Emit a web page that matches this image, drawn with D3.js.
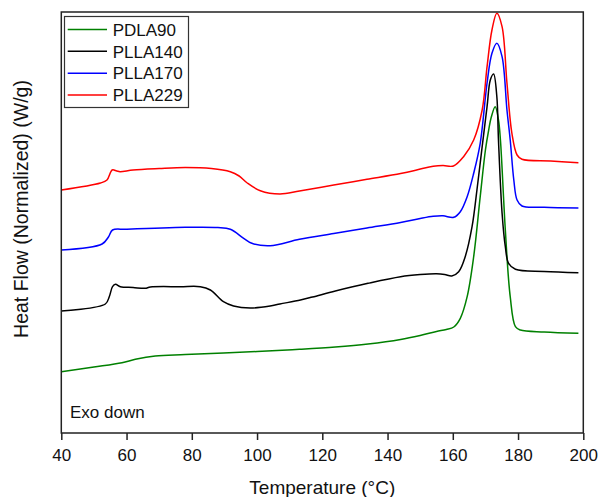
<!DOCTYPE html>
<html>
<head>
<meta charset="utf-8">
<script src="https://cdn.jsdelivr.net/npm/d3@7/dist/d3.min.js"></script>
<style>
  html, body { margin: 0; padding: 0; background: #fff; }
  svg { display: block; font-family: "Liberation Sans", Arial, Helvetica, sans-serif; }
</style>
</head>
<body>
<svg id="chart" width="598" height="497"></svg>
<script>
// DSC heating scans, heat flow normalized and offset (Exo down)
const seriesNames = ["PDLA90", "PLLA140", "PLLA170", "PLLA229"];
const seriesColors = ["#008000", "#000000", "#0000ff", "#ff0000"];
const xTicks = [40, 60, 80, 100, 120, 140, 160, 180, 200];

// [temperature °C, heat flow W/g (offset)]
const pdla90 = [
  [40, 0.603], [50, 0.65], [58.6, 0.693], [62.7, 0.727], [68.8, 0.76], [78, 0.775],
  [100, 0.805], [113, 0.827], [124, 0.85], [134, 0.88], [144, 0.925], [150, 0.965],
  [155, 1.005], [158, 1.025], [160.3, 1.05], [162.3, 1.137], [164.4, 1.353], [166.4, 1.753],
  [168.4, 2.353], [170, 2.82], [171, 3.02], [171.8, 3.15], [173, 3.253], [174, 3.12],
  [174.6, 2.92], [176.1, 2.02], [177.6, 1.353], [179.2, 1.053], [180.7, 1.02], [188, 1.0],
  [198.5, 0.987]
];
const plla140 = [
  [40, 1.21], [53.5, 1.28], [54.7, 1.353], [55.7, 1.453], [56.6, 1.477], [58.1, 1.453],
  [62, 1.445], [65.7, 1.437], [67.3, 1.45], [76.5, 1.453], [82.6, 1.453], [85.7, 1.42],
  [89.7, 1.303], [92.8, 1.26], [97.9, 1.24], [104, 1.26], [107, 1.28], [113.3, 1.32],
  [117, 1.35], [124, 1.41], [134, 1.487], [144, 1.553], [150, 1.574], [155, 1.582],
  [157.5, 1.575], [159.7, 1.56], [161.8, 1.603], [163.8, 1.753], [165.9, 2.053], [167.4, 2.42],
  [169, 2.853], [170.5, 3.253], [171.5, 3.52], [172.5, 3.58], [173.5, 3.353], [174, 2.92],
  [175.1, 2.19], [176.1, 1.853], [177.1, 1.687], [179.2, 1.627], [188, 1.605], [198.5, 1.593]
];
const plla170 = [
  [40, 1.82], [52.5, 1.88], [54.5, 1.953], [55.7, 2.02], [60, 2.027], [78, 2.047],
  [88, 2.045], [91.8, 2.027], [95.9, 1.937], [98.4, 1.887], [104, 1.863], [113, 1.927],
  [123.5, 1.985], [133.7, 2.04], [144, 2.095], [150, 2.135], [154, 2.157], [157, 2.162],
  [160.3, 2.147], [162.3, 2.203], [164.4, 2.353], [166.4, 2.587], [168.4, 2.887], [170.5, 3.49],
  [172, 3.787], [173.5, 3.887], [175.1, 3.753], [176.6, 3.22], [177.6, 2.92], [178.7, 2.52],
  [179.7, 2.32], [181.2, 2.26], [188, 2.248], [198.5, 2.24]
];
const plla229 = [
  [40, 2.42], [52, 2.49], [54, 2.52], [55.6, 2.62], [57, 2.61], [58, 2.603], [62, 2.62],
  [70, 2.635], [78, 2.645], [86, 2.635], [91.8, 2.603], [94.5, 2.56], [97, 2.49],
  [101, 2.413], [107, 2.38], [113, 2.41], [123.5, 2.47], [133.7, 2.527], [144, 2.585],
  [148, 2.613], [151, 2.638], [154, 2.657], [157, 2.664], [160.2, 2.66], [163.3, 2.753],
  [166.4, 2.92], [169, 3.22], [170.5, 3.653], [172, 4.02], [173.5, 4.187], [175.1, 4.053],
  [176.6, 3.49], [178.1, 2.99], [179.7, 2.77], [181.2, 2.727], [190, 2.71], [198.5, 2.693]
];
const seriesData = [pdla90, plla140, plla170, plla229];

const svg = d3.select("#chart");
const plotLeft = 61.3, plotRight = 583.3, plotTop = 12, plotBottom = 433;

const x = d3.scaleLinear().domain([40, 200]).range([plotLeft, plotRight]);
const y = d3.scaleLinear().domain([-0.01, 4.2]).range([plotBottom, plotTop]);

const line = d3.line()
  .x(d => x(d[0]))
  .y(d => y(d[1]))
  .curve(d3.curveCatmullRom.alpha(0.5));

// curves
svg.append("g")
  .selectAll("path")
  .data(seriesData)
  .join("path")
  .attr("d", line)
  .attr("fill", "none")
  .attr("stroke", (d, i) => seriesColors[i])
  .attr("stroke-width", 1.5)
  .attr("stroke-linejoin", "round");

// bottom axis
const xAxis = d3.axisBottom(x)
  .tickValues(xTicks)
  .tickFormat(d3.format("d"))
  .tickSize(7)
  .tickSizeOuter(0)
  .tickPadding(9);

const gx = svg.append("g")
  .attr("transform", `translate(0,${plotBottom})`)
  .call(xAxis);
gx.select(".domain").remove();
gx.selectAll(".tick line").attr("stroke", "#222").attr("stroke-width", 1.5);
gx.selectAll(".tick text")
  .attr("fill", "#111")
  .style("font-size", "17px")
  .style("font-family", "'Liberation Sans', Arial, sans-serif");

// frame
svg.append("rect")
  .attr("x", plotLeft).attr("y", plotTop)
  .attr("width", plotRight - plotLeft).attr("height", plotBottom - plotTop)
  .attr("fill", "none")
  .attr("stroke", "#222")
  .attr("stroke-width", 1.5);

// axis titles
svg.append("text")
  .attr("x", (plotLeft + plotRight) / 2)
  .attr("y", 494)
  .attr("text-anchor", "middle")
  .attr("fill", "#111")
  .style("font-size", "19px")
  .text("Temperature (°C)");

svg.append("text")
  .attr("transform", "translate(28,209) rotate(-90)")
  .attr("text-anchor", "middle")
  .attr("fill", "#111")
  .style("font-size", "19.5px")
  .text("Heat Flow (Normalized) (W/g)");

// annotation
svg.append("text")
  .attr("x", 70)
  .attr("y", 418)
  .attr("fill", "#111")
  .style("font-size", "17px")
  .text("Exo down");

// legend
const legend = svg.append("g");
legend.append("rect")
  .attr("x", 64.5).attr("y", 16.5)
  .attr("width", 124).attr("height", 91)
  .attr("fill", "#fff")
  .attr("stroke", "#333")
  .attr("stroke-width", 1.2);

const rows = legend.selectAll("g.row")
  .data(seriesNames)
  .join("g")
  .attr("class", "row")
  .attr("transform", (d, i) => `translate(0,${29.4 + i * 21.9})`);

rows.append("line")
  .attr("x1", 67.7).attr("x2", 107)
  .attr("y1", 0).attr("y2", 0)
  .attr("stroke", (d, i) => seriesColors[i])
  .attr("stroke-width", 1.5);

rows.append("text")
  .attr("x", 112.7)
  .attr("y", 6.2)
  .attr("fill", "#111")
  .style("font-size", "17px")
  .text(d => d);
</script>
</body>
</html>
